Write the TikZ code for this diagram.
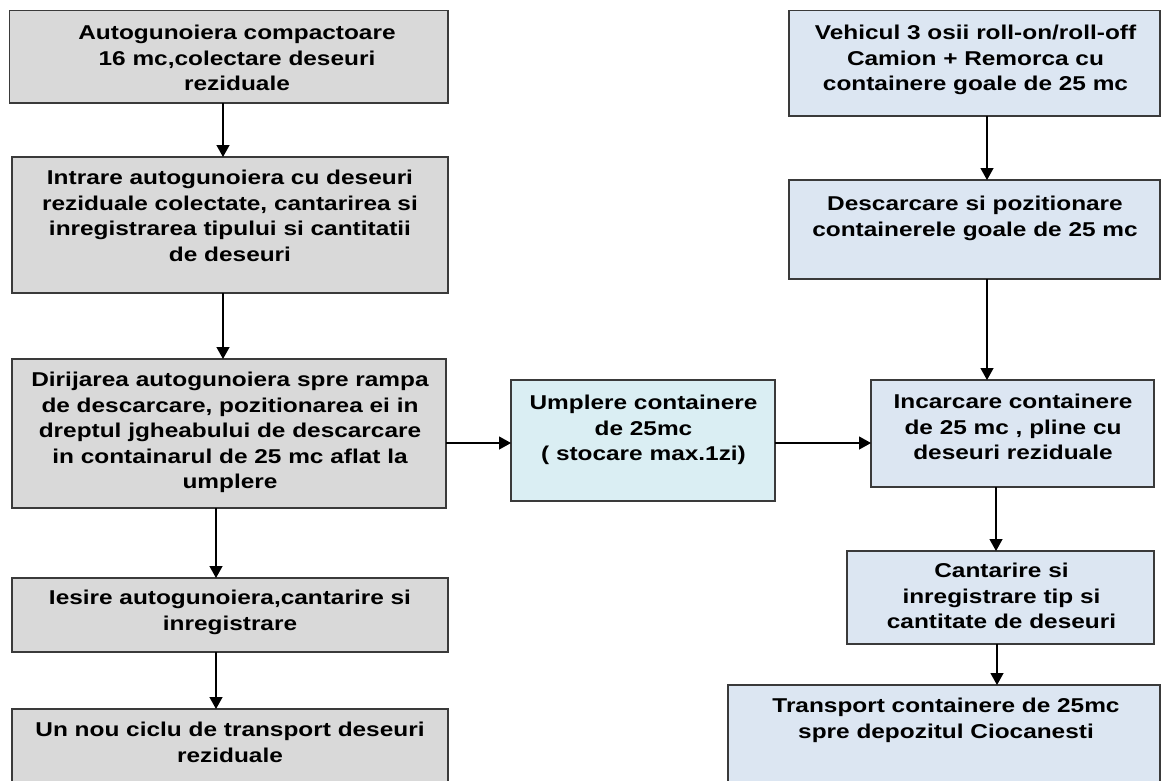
\documentclass[tikz,border=0pt]{standalone}
\usepackage{fontspec}
\setmainfont{Liberation Sans}[FakeStretch=1.22]
\usetikzlibrary{fit,arrows.meta}
\definecolor{grayfill}{HTML}{D9D9D9}
\definecolor{cyanfill}{HTML}{DAEEF3}
\definecolor{bluefill}{HTML}{DCE6F2}
\definecolor{edgecol}{HTML}{3A3A3A}
\tikzset{
  box/.style={draw=edgecol, line width=1.5pt, inner sep=0pt, outer sep=0pt, rectangle},
  gbox/.style={box, fill=grayfill},
  cbox/.style={box, fill=cyanfill},
  bbox/.style={box, fill=bluefill},
  lbl/.style={anchor=north, inner sep=0pt, align=center, font=\bfseries\fontsize{20}{25.5}\selectfont, text=black},
  arr/.style={line width=1.3pt, -{Triangle[width=13pt,length=12pt]}}
}
\begin{document}
\begin{tikzpicture}[x=1pt,y=-1pt]
\useasboundingbox (0,0) rectangle (1161,780);
\clip (0,0) rectangle (1161,780);
\fill[white] (0,0) rectangle (1161,780);
% left column
\node[gbox, fit={(9.5,10.7) (448,103)}] (L1) {};
\node[gbox, fit={(12,157) (448,293)}] (L2) {};
\node[gbox, fit={(12,359) (446,508)}] (L3) {};
\node[gbox, fit={(12,578) (448,652)}] (L4) {};
\node[gbox, fit={(12,709) (448,795)}] (L5) {};
% middle
\node[cbox, fit={(511,380) (775,501)}] (M) {};
% right column
\node[bbox, fit={(789,10.7) (1160,116)}] (R1) {};
\node[bbox, fit={(789,180) (1160,279)}] (R2) {};
\node[bbox, fit={(871,380) (1154,487)}] (R3) {};
\node[bbox, fit={(847,551) (1154,644)}] (R4) {};
\node[bbox, fit={(728,685) (1160,795)}] (R5) {};
% texts
\node[lbl] (tL1) at (237,25) {Autogunoiera compactoare\\16 mc,colectare deseuri\\reziduale};
\node[lbl] (tL2) at (230,170) {Intrare autogunoiera cu deseuri\\reziduale colectate, cantarirea si\\inregistrarea tipului si cantitatii\\de deseuri};
\node[lbl] (tL3) at (230,372) {Dirijarea autogunoiera spre rampa\\de descarcare, pozitionarea ei in\\dreptul jgheabului de descarcare\\in containarul de 25 mc aflat la\\umplere};
\node[lbl] (tL4) at (230,590) {Iesire autogunoiera,cantarire si\\inregistrare};
\node[lbl] (tL5) at (230,722) {Un nou ciclu de transport deseuri\\reziduale};
\node[lbl] (tM) at (643.5,395) {Umplere containere\\de 25mc\\( stocare max.1zi)};
\node[lbl] (tR1) at (975.5,25) {Vehicul 3 osii roll-on/roll-off\\Camion + Remorca cu\\containere goale de 25 mc};
\node[lbl] (tR2) at (975,196) {Descarcare si pozitionare\\containerele goale de 25 mc};
\node[lbl] (tR3) at (1013,394) {Incarcare containere\\de 25 mc , pline cu\\deseuri reziduale};
\node[lbl] (tR4) at (1001.5,563) {Cantarire si\\inregistrare tip si\\cantitate de deseuri};
\node[lbl] (tR5) at (946,698) {Transport containere de 25mc\\spre depozitul Ciocanesti};
% connectors
\draw[arr] ([xshift=-5.75pt]L1.south) -- ([xshift=-5.75pt]L1.south |- L2.north);
\draw[arr] ([xshift=-7pt]L2.south) -- ([xshift=-7pt]L2.south |- L3.north);
\draw[arr] ([xshift=-13pt]L3.south) -- ([xshift=-13pt]L3.south |- L4.north);
\draw[arr] ([xshift=-14pt]L4.south) -- ([xshift=-14pt]L4.south |- L5.north);
\draw[arr] ([xshift=12.5pt]R1.south) -- ([xshift=12.5pt]R1.south |- R2.north);
\draw[arr] ([xshift=12.5pt]R2.south) -- ([xshift=12.5pt]R2.south |- R3.north);
\draw[arr] ([xshift=-16.5pt]R3.south) -- ([xshift=-16.5pt]R3.south |- R4.north);
\draw[arr] ([xshift=-3.5pt]R4.south) -- ([xshift=-3.5pt]R4.south |- R5.north);
\coordinate (hy) at (0,443);
\draw[arr] (L3.east |- hy) -- (M.west |- hy);
\draw[arr] (M.east |- hy) -- (R3.west |- hy);
\end{tikzpicture}
\end{document}
